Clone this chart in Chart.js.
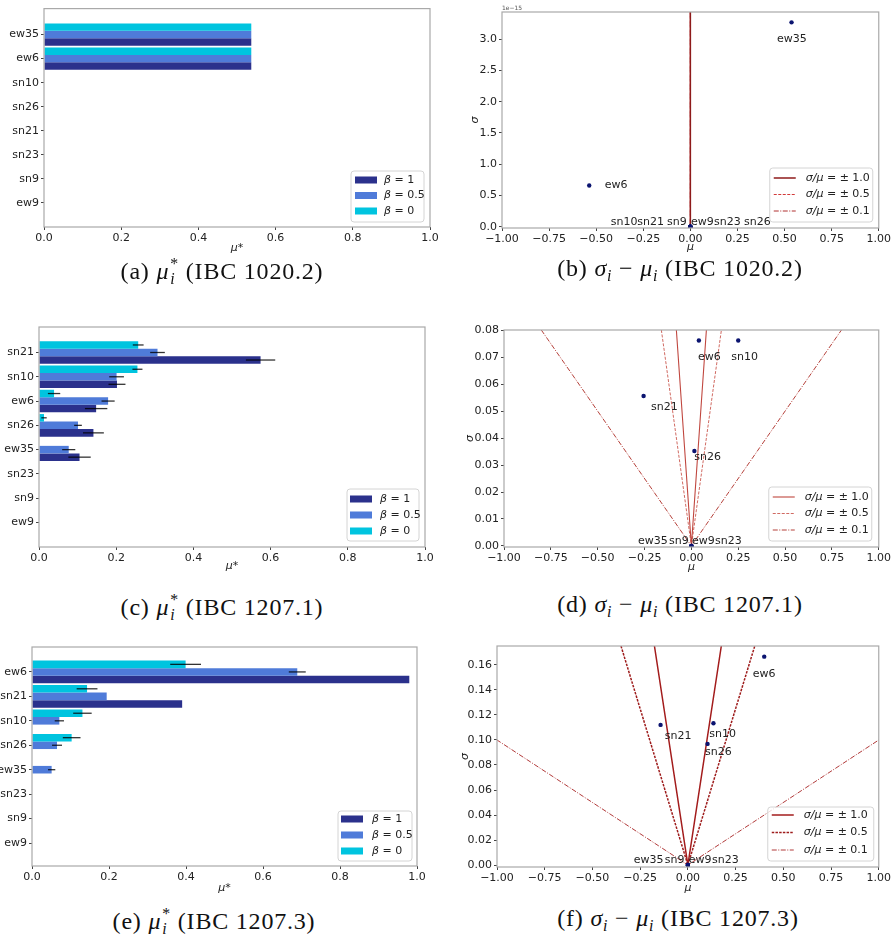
<!DOCTYPE html>
<html><head><meta charset="utf-8">
<script src="https://cdn.jsdelivr.net/npm/chart.js@4.4.1/dist/chart.umd.min.js"></script>
<style>
html,body{margin:0;padding:0;background:#fff}
body{width:893px;height:943px;position:relative;overflow:hidden}
canvas{position:absolute}
.cap{position:absolute;font-family:"Liberation Serif",serif;font-size:24px;letter-spacing:0.8px;color:#111;white-space:nowrap;transform:translateX(-50%);line-height:1}
.ss{display:inline-block;vertical-align:-0.32em;line-height:0.95;font-size:0.66em;margin-left:1px;text-align:left}
.ss span{display:block}
.sb{font-size:0.66em;vertical-align:-0.3em}
</style></head><body>
<canvas id="ca" width="446" height="256" style="left:0;top:0"></canvas>
<canvas id="cb" width="447" height="256" style="left:446px;top:0"></canvas>
<canvas id="cc" width="446" height="262" style="left:0;top:312px"></canvas>
<canvas id="cd" width="447" height="262" style="left:446px;top:312px"></canvas>
<canvas id="ce" width="446" height="260" style="left:0;top:636px"></canvas>
<canvas id="cf" width="447" height="260" style="left:446px;top:636px"></canvas>
<div class="cap" style="left:222px;top:256px">(a) <i>μ</i><span class="ss"><span>*</span><span><i>i</i></span></span> (IBC 1020.2)</div>
<div class="cap" style="left:680px;top:256px">(b) <i>σ</i><span class="sb"><i>i</i></span> − <i>μ</i><span class="sb"><i>i</i></span> (IBC 1020.2)</div>
<div class="cap" style="left:222px;top:592px">(c) <i>μ</i><span class="ss"><span>*</span><span><i>i</i></span></span> (IBC 1207.1)</div>
<div class="cap" style="left:680px;top:592px">(d) <i>σ</i><span class="sb"><i>i</i></span> − <i>μ</i><span class="sb"><i>i</i></span> (IBC 1207.1)</div>
<div class="cap" style="left:214px;top:906px">(e) <i>μ</i><span class="ss"><span>*</span><span><i>i</i></span></span> (IBC 1207.3)</div>
<div class="cap" style="left:678px;top:906px">(f) <i>σ</i><span class="sb"><i>i</i></span> − <i>μ</i><span class="sb"><i>i</i></span> (IBC 1207.3)</div>
<script>
// ---------------- DATA ----------------
const betaNames = ['1', '0.5', '0'];
const xTicksBar = [0, 0.2, 0.4, 0.6, 0.8, 1.0];
const xTicksScatter = [-1, -0.75, -0.5, -0.25, 0, 0.25, 0.5, 0.75, 1];

// (a) IBC 1020.2
const catsA = ['ew35', 'ew6', 'sn10', 'sn26', 'sn21', 'sn23', 'sn9', 'ew9'];
const muStarA_b1  = [0.537, 0.537, 0, 0, 0, 0, 0, 0];
const muStarA_b05 = [0.537, 0.537, 0, 0, 0, 0, 0, 0];
const muStarA_b0  = [0.537, 0.537, 0, 0, 0, 0, 0, 0];

// (c) IBC 1207.1
const catsC = ['sn21', 'sn10', 'ew6', 'sn26', 'ew35', 'sn23', 'sn9', 'ew9'];
const muStarC_b1  = [0.574, 0.202, 0.148, 0.141, 0.105, 0, 0, 0];
const errC_b1     = [0.038, 0.022, 0.029, 0.027, 0.029, 0, 0, 0];
const muStarC_b05 = [0.307, 0.201, 0.179, 0.101, 0.077, 0, 0, 0];
const errC_b05    = [0.019, 0.019, 0.017, 0.010, 0.017, 0, 0, 0];
const muStarC_b0  = [0.257, 0.255, 0.039, 0.013, 0, 0, 0, 0];
const errC_b0     = [0.014, 0.013, 0.016, 0.007, 0, 0, 0, 0];

// (e) IBC 1207.3
const catsE = ['ew6', 'sn21', 'sn10', 'sn26', 'ew35', 'sn23', 'sn9', 'ew9'];
const muStarE_b1  = [0.980, 0.390, 0, 0, 0, 0, 0, 0];
const errE_b1     = [0, 0, 0, 0, 0, 0, 0, 0];
const muStarE_b05 = [0.689, 0.194, 0.071, 0.065, 0.051, 0, 0, 0];
const errE_b05    = [0.022, 0, 0.012, 0.013, 0.0095, 0, 0, 0];
const muStarE_b0  = [0.399, 0.143, 0.131, 0.103, 0, 0, 0, 0];
const errE_b0     = [0.040, 0.027, 0.024, 0.023, 0, 0, 0, 0];

// (b) IBC 1020.2  sigma-mu
const namesB = ['ew35', 'ew6', 'sn10', 'sn21', 'sn9', 'ew9', 'sn23', 'sn26'];
const muB    = [0.537, -0.537, 0, 0, 0, 0, 0, 0];
const sigmaB = [3.27e-15, 0.66e-15, 0, 0, 0, 0, 0, 0];
const yTicksB = [0, 0.5e-15, 1.0e-15, 1.5e-15, 2.0e-15, 2.5e-15, 3.0e-15];

// (d) IBC 1207.1  sigma-mu
const namesD = ['ew6', 'sn10', 'sn21', 'sn26', 'ew35', 'sn9', 'ew9', 'sn23'];
const muD    = [0.040, 0.250, -0.255, 0.016, 0, 0, 0, 0];
const sigmaD = [0.0762, 0.0762, 0.0556, 0.0352, 0, 0, 0, 0];
const yTicksD = [0, 0.01, 0.02, 0.03, 0.04, 0.05, 0.06, 0.07, 0.08];

// (f) IBC 1207.3  sigma-mu
const namesF = ['ew6', 'sn21', 'sn10', 'sn26', 'ew35', 'sn9', 'ew9', 'sn23'];
const muF    = [0.400, -0.143, 0.134, 0.103, 0, 0, 0, 0];
const sigmaF = [0.1667, 0.1121, 0.1134, 0.0969, 0, 0, 0, 0];
const yTicksF = [0, 0.02, 0.04, 0.06, 0.08, 0.10, 0.12, 0.14, 0.16];

// reference ratio lines sigma/mu = ±r
const ratios = [1.0, 0.5, 0.1];

// annotation anchors (left edge of each name label), in data units
const labelAnchorsB = [[0.46, 3.0e-15], [-0.455, 0.66e-15], [-0.423, 0.074e-15], [-0.282, 0.074e-15], [-0.124, 0.074e-15], [0.003, 0.074e-15], [0.126, 0.074e-15], [0.285, 0.074e-15]];
const labelAnchorsD = [[0.035, 0.070], [0.213, 0.070], [-0.215, 0.0514], [0.016, 0.0331], [-0.285, 0.0016], [-0.119, 0.0016], [0.003, 0.0016], [0.126, 0.0016]];
const labelAnchorsF = [[0.340, 0.1528], [-0.121, 0.1033], [0.112, 0.1049], [0.090, 0.090], [-0.284, 0.0035], [-0.121, 0.0035], [0.005, 0.0035], [0.126, 0.0035]];

// ---------------- STYLE ----------------
const C_B1 = '#2b318c', C_B05 = '#4f7bd9', C_B0 = '#00c4df';
const PT = '#0b1470';
Chart.defaults.font.family = '"DejaVu Sans", sans-serif';
Chart.defaults.font.size = 11;
Chart.defaults.color = '#222';
Chart.defaults.animation = false;

const framePlugin = {
  id: 'frame',
  afterDatasetsDraw(chart) {
    const {ctx, chartArea: a} = chart;
    ctx.save();
    ctx.strokeStyle = '#a9a9a9'; ctx.lineWidth = 1.2;
    ctx.strokeRect(a.left, a.top, a.right - a.left, a.bottom - a.top);
    ctx.restore();
  }
};
const errPlugin = {
  id: 'errbars',
  afterDatasetsDraw(chart) {
    const {ctx} = chart; const xs = chart.scales.x;
    ctx.save(); ctx.strokeStyle = 'rgba(0,0,0,0.8)'; ctx.lineWidth = 1.3;
    chart.data.datasets.forEach((ds, di) => {
      if (!ds.errorBars) return;
      const meta = chart.getDatasetMeta(di);
      meta.data.forEach((el, j) => {
        const e = ds.errorBars[j]; if (!e) return;
        const v = ds.data[j].x;
        ctx.beginPath();
        ctx.moveTo(xs.getPixelForValue(v - e), el.y);
        ctx.lineTo(xs.getPixelForValue(v + e), el.y);
        ctx.stroke();
      });
    });
    ctx.restore();
  }
};
const namePlugin = {
  id: 'names',
  afterDatasetsDraw(chart, args, opts) {
    if (!opts.items) return;
    const {ctx} = chart; const xs = chart.scales.x, ys = chart.scales.y;
    ctx.save(); ctx.fillStyle = '#222'; ctx.font = '11px "DejaVu Sans"';
    ctx.textAlign = 'left'; ctx.textBaseline = 'middle';
    opts.items.forEach(it => ctx.fillText(it.t, xs.getPixelForValue(it.x), ys.getPixelForValue(it.y)));
    if (opts.offsetText) {
      ctx.font = '6px "DejaVu Sans"'; ctx.fillStyle = '#555'; ctx.textBaseline = 'bottom';
      ctx.fillText(opts.offsetText, chart.chartArea.left, chart.chartArea.top - 1);
    }
    ctx.restore();
  }
};
const boxLegend = {
  id: 'boxLegend',
  afterDraw(chart, args, o) {
    if (!o.items) return;
    const {ctx, chartArea: a} = chart;
    const x = a.right - o.mr - o.w, y = a.bottom - o.mb - o.h;
    ctx.save();
    ctx.beginPath();
    const r = 3;
    ctx.moveTo(x + r, y); ctx.lineTo(x + o.w - r, y); ctx.arcTo(x + o.w, y, x + o.w, y + r, r);
    ctx.lineTo(x + o.w, y + o.h - r); ctx.arcTo(x + o.w, y + o.h, x + o.w - r, y + o.h, r);
    ctx.lineTo(x + r, y + o.h); ctx.arcTo(x, y + o.h, x, y + o.h - r, r);
    ctx.lineTo(x, y + r); ctx.arcTo(x, y, x + r, y, r); ctx.closePath();
    ctx.fillStyle = 'rgba(255,255,255,0.8)'; ctx.fill();
    ctx.strokeStyle = '#d4d4d4'; ctx.lineWidth = 1; ctx.stroke();
    o.items.forEach((it, i) => {
      const cy = y + o.row0 + i * o.rowH;
      if (it.kind === 'rect') {
        ctx.fillStyle = it.color; ctx.fillRect(x + o.swX, cy - 3.5, o.swW, 7);
      } else {
        ctx.strokeStyle = it.color; ctx.lineWidth = it.width; ctx.setLineDash(it.dash || []);
        ctx.beginPath(); ctx.moveTo(x + o.swX, cy); ctx.lineTo(x + o.swX + o.swW, cy); ctx.stroke();
        ctx.setLineDash([]);
      }
      ctx.fillStyle = '#222'; ctx.textBaseline = 'middle'; ctx.textAlign = 'left';
      ctx.font = 'italic 11px "DejaVu Sans"';
      ctx.fillText(it.ital, x + o.textX, cy);
      const w = ctx.measureText(it.ital).width;
      ctx.font = '11px "DejaVu Sans"';
      ctx.fillText(it.rest, x + o.textX + w, cy);
    });
    ctx.restore();
  }
};

function tickAxis(extra) {
  return Object.assign({
    offset: false,
    border: {display: false},
    grid: {drawOnChartArea: false, tickLength: 3, color: '#444', lineWidth: 1, offset: false},
  }, extra);
}

function barChart(id, cats, series, errs, yRange, geo, leg) {
  const colors = [C_B0, C_B05, C_B1];
  const order = [2, 1, 0]; // β=0 on top of each group, then 0.5, then 1
  const datasets = order.map((k, n) => ({
    label: 'β = ' + betaNames[k],
    data: series[k].map((v, i) => ({x: v, y: i})),
    errorBars: errs ? errs[k] : null,
    backgroundColor: colors[n], borderWidth: 0,
    barPercentage: 1.0, categoryPercentage: 0.93
  }));
  return new Chart(document.getElementById(id), {
    type: 'bar',
    data: {datasets},
    plugins: [framePlugin, errPlugin, boxLegend],
    options: {
      responsive: false, indexAxis: 'y',
      layout: {padding: {top: geo.pt, right: geo.pr, left: 0, bottom: 0}},
      plugins: {legend: {display: false}, tooltip: {enabled: false},
        boxLegend: Object.assign({items: [
          {kind: 'rect', color: C_B1, ital: 'β', rest: ' = 1'},
          {kind: 'rect', color: C_B05, ital: 'β', rest: ' = 0.5'},
          {kind: 'rect', color: C_B0, ital: 'β', rest: ' = 0'}]}, leg)},
      scales: {
        x: tickAxis({type: 'linear', min: 0, max: 1, bounds: 'data',
          afterBuildTicks: s => { s.ticks = xTicksBar.map(v => ({value: v})); },
          ticks: {callback: v => v.toFixed(1), padding: 2, maxRotation: 0, autoSkip: false},
          title: {display: true, text: 'μ*', font: {style: 'italic', size: 11}, padding: {top: 0, bottom: geo.tb}},
          afterFit: s => { s.height = geo.xh; }}),
        y: tickAxis({type: 'linear', reverse: true, min: yRange[0], max: yRange[1], bounds: 'data',
          afterBuildTicks: s => { s.ticks = cats.map((c, i) => ({value: i})); },
          ticks: {callback: v => cats[v], padding: 2, autoSkip: false},
          afterFit: s => { s.width = geo.yw; }})
      }
    }
  });
}

function scatterChart(id, names, mu, sigma, anchors, yMin, yMax, yTicks, yFmt, geo, lineSty, leg, offsetText) {
  const datasets = [];
  ratios.forEach((r, k) => {
    datasets.push({
      type: 'line', label: 'σ/μ = ± ' + r.toFixed(1),
      data: [{x: -yMax / r, y: yMax}, {x: 0, y: 0}, {x: yMax / r, y: yMax}],
      borderColor: lineSty[k].color, borderWidth: lineSty[k].width, borderDash: lineSty[k].dash,
      pointRadius: 0, tension: 0, fill: false, order: 2
    });
  });
  datasets.push({
    type: 'scatter', label: 'points',
    data: mu.map((m, i) => ({x: m, y: sigma[i]})),
    backgroundColor: PT, borderWidth: 0, pointRadius: 2.2, order: 1
  });
  return new Chart(document.getElementById(id), {
    type: 'scatter',
    data: {datasets},
    plugins: [framePlugin, namePlugin, boxLegend],
    options: {
      responsive: false,
      layout: {padding: {top: geo.pt, right: geo.pr, left: 0, bottom: 0}},
      plugins: {legend: {display: false}, tooltip: {enabled: false},
        names: {items: names.map((n, i) => ({t: n, x: anchors[i][0], y: anchors[i][1]})), offsetText},
        boxLegend: Object.assign({items: ratios.map((r, k) => ({
          kind: 'line', color: lineSty[k].color, width: lineSty[k].width, dash: lineSty[k].dash,
          ital: 'σ/μ', rest: ' = ± ' + r.toFixed(1)}))}, leg)},
      scales: {
        x: tickAxis({type: 'linear', min: -1, max: 1, bounds: 'data',
          afterBuildTicks: s => { s.ticks = xTicksScatter.map(v => ({value: v})); },
          ticks: {callback: v => v.toFixed(2).replace('-', '\u2212'), padding: 2, maxRotation: 0, autoSkip: false},
          title: {display: true, text: 'μ', font: {style: 'italic', size: 11}, padding: {top: 0, bottom: geo.tb}},
          afterFit: s => { s.height = geo.xh; }}),
        y: tickAxis({type: 'linear', min: yMin, max: yMax, bounds: 'data',
          afterBuildTicks: s => { s.ticks = yTicks.map(v => ({value: v})); },
          ticks: {callback: yFmt, padding: 2, autoSkip: false},
          title: {display: true, text: 'σ', font: {style: 'italic', size: 11}, padding: {top: geo.tt, bottom: 0}},
          afterFit: s => { s.width = geo.yw; }})
      }
    }
  });
}

// ---------------- CHARTS ----------------
barChart('ca', catsA, [muStarA_b1, muStarA_b05, muStarA_b0], null, [-1.08, 8.0],
  {pt: 6, pr: 16, yw: 44, xh: 29, tb: 1.4},
  {w: 73, h: 51, mr: 6, mb: 5, row0: 9, rowH: 15.5, swX: 4, swW: 22, textX: 33});
barChart('cc', catsC, [muStarC_b1, muStarC_b05, muStarC_b0], [errC_b1, errC_b05, errC_b0], [-1.05, 8.01],
  {pt: 15, pr: 21, yw: 39, xh: 27, tb: 1.4},
  {w: 72, h: 52, mr: 6, mb: 6, row0: 10, rowH: 16, swX: 3, swW: 22, textX: 33});
barChart('ce', catsE, [muStarE_b1, muStarE_b05, muStarE_b0], [errE_b1, errE_b05, errE_b0], [-1.02, 7.94],
  {pt: 11, pr: 29, yw: 32, xh: 30, tb: 1.4},
  {w: 74, h: 50, mr: 5, mb: 5, row0: 8, rowH: 16, swX: 3, swW: 22, textX: 34});

const styB = [{color: '#8e1a1a', width: 1.5, dash: []}, {color: '#d23a3a', width: 1, dash: [3, 1.5]}, {color: '#b03030', width: 1, dash: [5, 1.5, 1, 1.5]}];
const styD = [{color: '#c0473f', width: 1.1, dash: []}, {color: '#d06a62', width: 1, dash: [3, 1.5]}, {color: '#b5403a', width: 1, dash: [5, 1.5, 1, 1.5]}];
const styF = [{color: '#a31c1c', width: 1.5, dash: []}, {color: '#9e1c1c', width: 1.5, dash: [2.5, 1.2]}, {color: '#b13a3a', width: 1, dash: [5, 1.5, 1, 1.5]}];

scatterChart('cb', namesB, muB, sigmaB, labelAnchorsB, -0.021e-15, 3.436e-15, yTicksB, v => (v / 1e-15).toFixed(1),
  {pt: 12, pr: 12, yw: 56, xh: 28, tb: 2.4, tt: 22.4}, styB,
  {w: 103, h: 54, mr: 6, mb: 6, row0: 10, rowH: 16.5, swX: 4, swW: 22, textX: 36}, '1e\u221215');
scatterChart('cd', namesD, muD, sigmaD, labelAnchorsD, -0.0004, 0.0801, yTicksD, v => v.toFixed(2),
  {pt: 18, pr: 7, yw: 58, xh: 27, tb: 0.4, tt: 17.4}, styD,
  {w: 103, h: 54, mr: 7, mb: 6, row0: 10, rowH: 16.5, swX: 4, swW: 22, textX: 36});
scatterChart('cf', namesF, muF, sigmaF, labelAnchorsF, -0.0016, 0.1752, yTicksF, v => v.toFixed(2),
  {pt: 10, pr: 10, yw: 51, xh: 29, tb: 1.4, tt: 12.4}, styF,
  {w: 106, h: 54, mr: 5, mb: 6, row0: 8, rowH: 17.5, swX: 4, swW: 22, textX: 36});
</script>
</body></html>
